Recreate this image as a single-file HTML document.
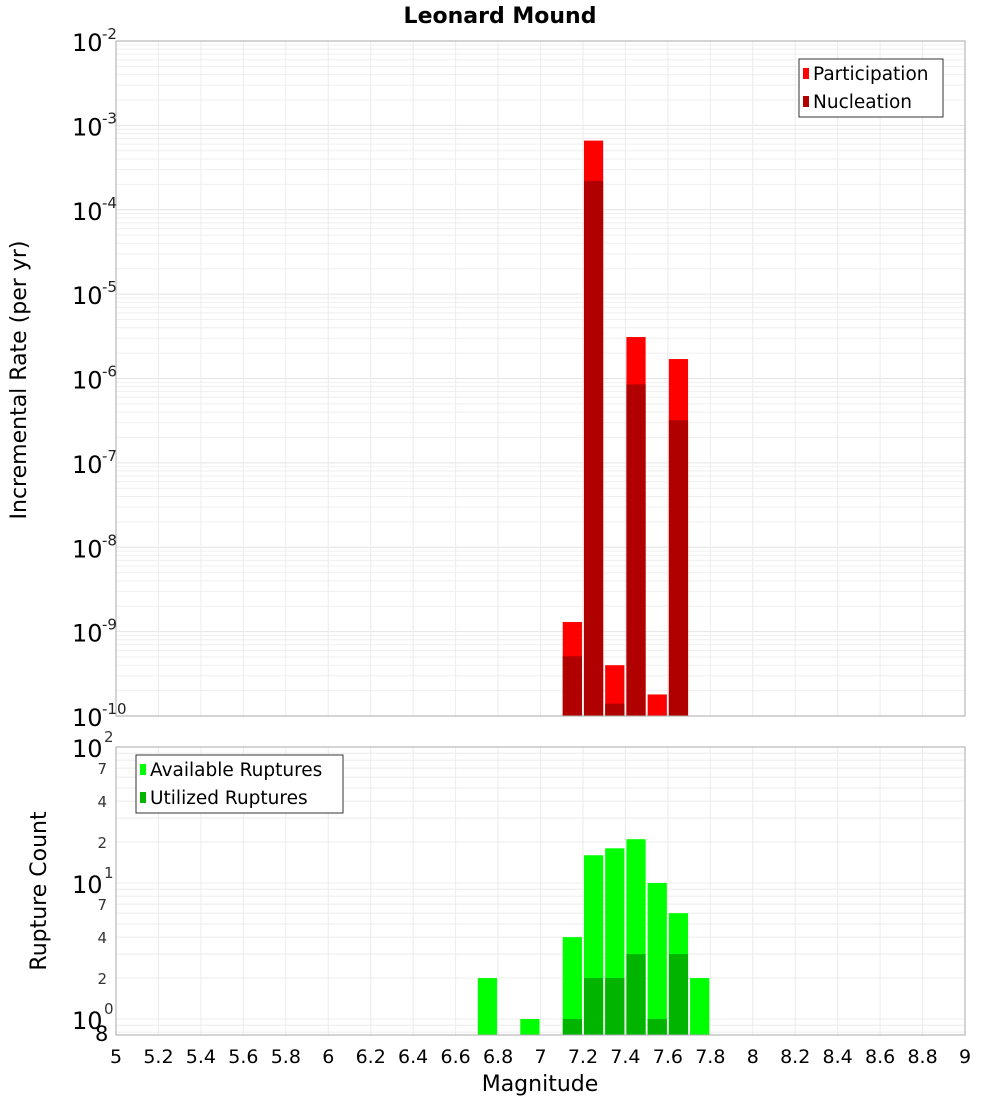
<!DOCTYPE html>
<html><head><meta charset="utf-8"><style>body{margin:0;background:#fff}svg{display:block;font-family:"DejaVu Sans","Liberation Sans",sans-serif}</style></head>
<body>
<svg id="c" width="1000" height="1100"></svg>
<script>
const binCenters=[7.15,7.25,7.35,7.45,7.55,7.65];
const participation=[1.3e-9,6.6e-4,4e-10,3.1e-6,1.8e-10,1.7e-6];
const nucleation=[5.1e-10,2.2e-4,1.4e-10,8.5e-7,0,3.2e-7];
const countCenters=[6.75,6.95,7.15,7.25,7.35,7.45,7.55,7.65,7.75];
const available=[2,1,4,16,18,21,10,6,2];
const utilized=[0,0,1,2,2,3,1,3,0];
const xTicks=[5,5.2,5.4,5.6,5.8,6,6.2,6.4,6.6,6.8,7,7.2,7.4,7.6,7.8,8,8.2,8.4,8.6,8.8,9];
const topExps=[-10,-9,-8,-7,-6,-5,-4,-3,-2];

const NS="http://www.w3.org/2000/svg",svg=document.getElementById('c');
function el(t,a,p){const e=document.createElementNS(NS,t);for(const k in a)e.setAttribute(k,a[k]);(p||svg).appendChild(e);return e;}
const X0=116,X1=965;
const x=v=>X0+(v-5)/4*(X1-X0);
const T0=41,T1=716;
const yTop=v=>T1-(Math.log10(v)+10)/8*(T1-T0);
const B0=747,B1=1035,PPD=136;
const yBot=v=>1019-PPD*Math.log10(v);

const gTop=el('g',{});


for(let e=-10;e<-2;e++)for(let m=1;m<10;m++){const yy=yTop(m*Math.pow(10,e));el('line',{x1:X0,x2:X1,y1:yy,y2:yy,stroke:m==1?'#e4e4e4':'#efefef','stroke-width':1},gTop);}
const gBot=el('g',{});


[0.8,0.9,1,2,3,4,5,6,7,8,9,10,20,30,40,50,60,70,80,90,100].forEach(v=>{const yy=yBot(v);if(yy<=B1&&yy>=B0)el('line',{x1:X0,x2:X1,y1:yy,y2:yy,stroke:'#ececec'},gBot);});
xTicks.forEach(t=>{el('line',{x1:x(t),x2:x(t),y1:T0,y2:T1,stroke:'#ececec'},gTop);el('line',{x1:x(t),x2:x(t),y1:B0,y2:B1,stroke:'#ececec'},gBot);});

const bw=(x(5.1)-x(5))-2;
binCenters.forEach((c,i)=>{
 if(participation[i]>0){const r=el('rect',{x:x(c)-bw/2,y:yTop(participation[i]),width:bw,height:T1-yTop(participation[i]),fill:'#ff0000'});
 }
 if(nucleation[i]>0){const r=el('rect',{x:x(c)-bw/2,y:yTop(nucleation[i]),width:bw,height:T1-yTop(nucleation[i]),fill:'#b00000'});
 }
});
countCenters.forEach((c,i)=>{
 if(available[i]>0){const r=el('rect',{x:x(c)-bw/2,y:yBot(available[i]),width:bw,height:B1-yBot(available[i]),fill:'#00ff00'});
 }
 if(utilized[i]>0){const r=el('rect',{x:x(c)-bw/2,y:yBot(utilized[i]),width:bw,height:B1-yBot(utilized[i]),fill:'#00b400'});
 }
});
el('rect',{x:X0,y:T0,width:X1-X0,height:T1-T0,fill:'none',stroke:'#aaa'});
el('rect',{x:X0,y:B0,width:X1-X0,height:B1-B0,fill:'none',stroke:'#aaa'});

topExps.forEach(e=>{const yy=yTop(Math.pow(10,e));
 const t=el('text',{x:72,y:yy+10,'font-size':24,fill:'#000'});t.textContent='10';
 
 const s=el('text',{x:102,y:yy-2,'font-size':15,fill:'#222'});s.textContent=String(e);});
[[100,'10','2'],[10,'10','1'],[1,'10','0']].forEach(([v,b,p])=>{const yy=yBot(v);
 const t=el('text',{x:72,y:yy+10,'font-size':24});t.textContent=b;
 
 const s=el('text',{x:104,y:yy-5,'font-size':15,fill:'#333'});s.textContent=p;});
[70,40,20,7,4,2].forEach(v=>{const t=el('text',{x:107,y:yBot(v)+6,'font-size':15,fill:'#333','text-anchor':'end'});t.textContent=String(v)[0];});
el('text',{x:95,y:1041,'font-size':21}).textContent='8';
xTicks.forEach(t=>{const e=el('text',{x:x(t),y:1063,'font-size':19,'text-anchor':'middle'});e.textContent=String(t);
 });
let tt=el('text',{x:540,y:1091,'font-size':22,'text-anchor':'middle'});tt.textContent='Magnitude';
tt=el('text',{x:500,y:23,'font-size':22,'font-weight':'bold','text-anchor':'middle'});tt.textContent='Leonard Mound';
tt=el('text',{x:0,y:0,'font-size':22,'text-anchor':'middle',transform:'translate(26,380) rotate(-90)'});tt.textContent='Incremental Rate (per yr)';
tt=el('text',{x:0,y:0,'font-size':22,'text-anchor':'middle',transform:'translate(46,891) rotate(-90)'});tt.textContent='Rupture Count';

function legend(x0,y0,w,items,name){const g=el('g',{});
 el('rect',{x:x0,y:y0,width:w,height:58,fill:'#fff',stroke:'#333'},g);
 items.forEach(([c,l],i)=>{el('rect',{x:x0+4,y:y0+9+i*28,width:6,height:11,fill:c},g);const t=el('text',{x:x0+14,y:y0+21+i*28,'font-size':18.5},g);t.textContent=l;});}
legend(799,59,144,[['#ff0000','Participation'],['#b00000','Nucleation']],'top-legend');
legend(136,755,207,[['#00ff00','Available Ruptures'],['#00b400','Utilized Ruptures']],'bottom-legend');
</script>
</body></html>
